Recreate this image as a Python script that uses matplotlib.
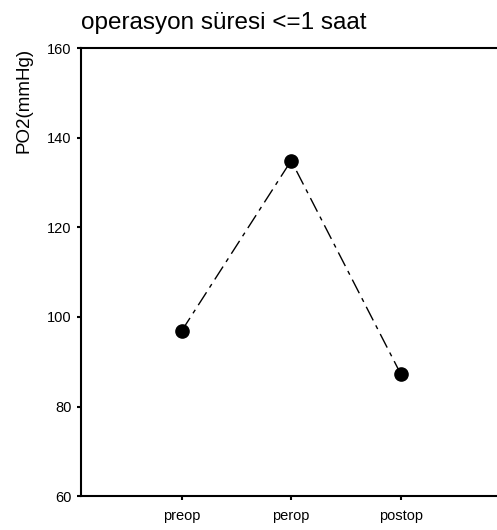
import matplotlib.pyplot as plt

plt.rcParams["font.family"] = ["Liberation Sans", "DejaVu Sans"]

phases = ["preop", "perop", "postop"]
po2 = [96.9, 134.9, 87.3]
y_ticks = [60, 80, 100, 120, 140, 160]

fig = plt.figure(figsize=(4.97, 5.30), dpi=100)
ax = fig.add_axes([0.163, 0.064, 0.837, 0.845])

x = list(range(1, len(phases) + 1))
ax.plot(x, po2, color="black", linewidth=1.0, dashes=(11, 4, 3, 4),
        marker="o", markersize=9.5, markerfacecolor="black", markeredgecolor="black")

ax.set_xlim(0.08, 3.88)
ax.set_ylim(60, 160)
ax.set_xticks(x)
ax.set_xticklabels(phases, fontsize=10.5)
ax.set_yticks(y_ticks)
ax.set_yticklabels([str(v) for v in y_ticks], fontsize=10.5)
ax.tick_params(direction="out", length=3, width=1.5)
ax.tick_params(axis="x", pad=6)
ax.tick_params(axis="y", pad=4)

for side in ["left", "bottom", "top"]:
    ax.spines[side].set_linewidth(1.5)
ax.spines["right"].set_visible(False)

ax.set_ylabel("PO2(mmHg)", fontsize=13.5, loc="top")
ax.yaxis.set_label_coords(-0.116, 1.0)
ax.set_title("operasyon süresi <=1 saat", fontsize=17.5, loc="left", pad=14)

fig.savefig("out.png", dpi=100)
